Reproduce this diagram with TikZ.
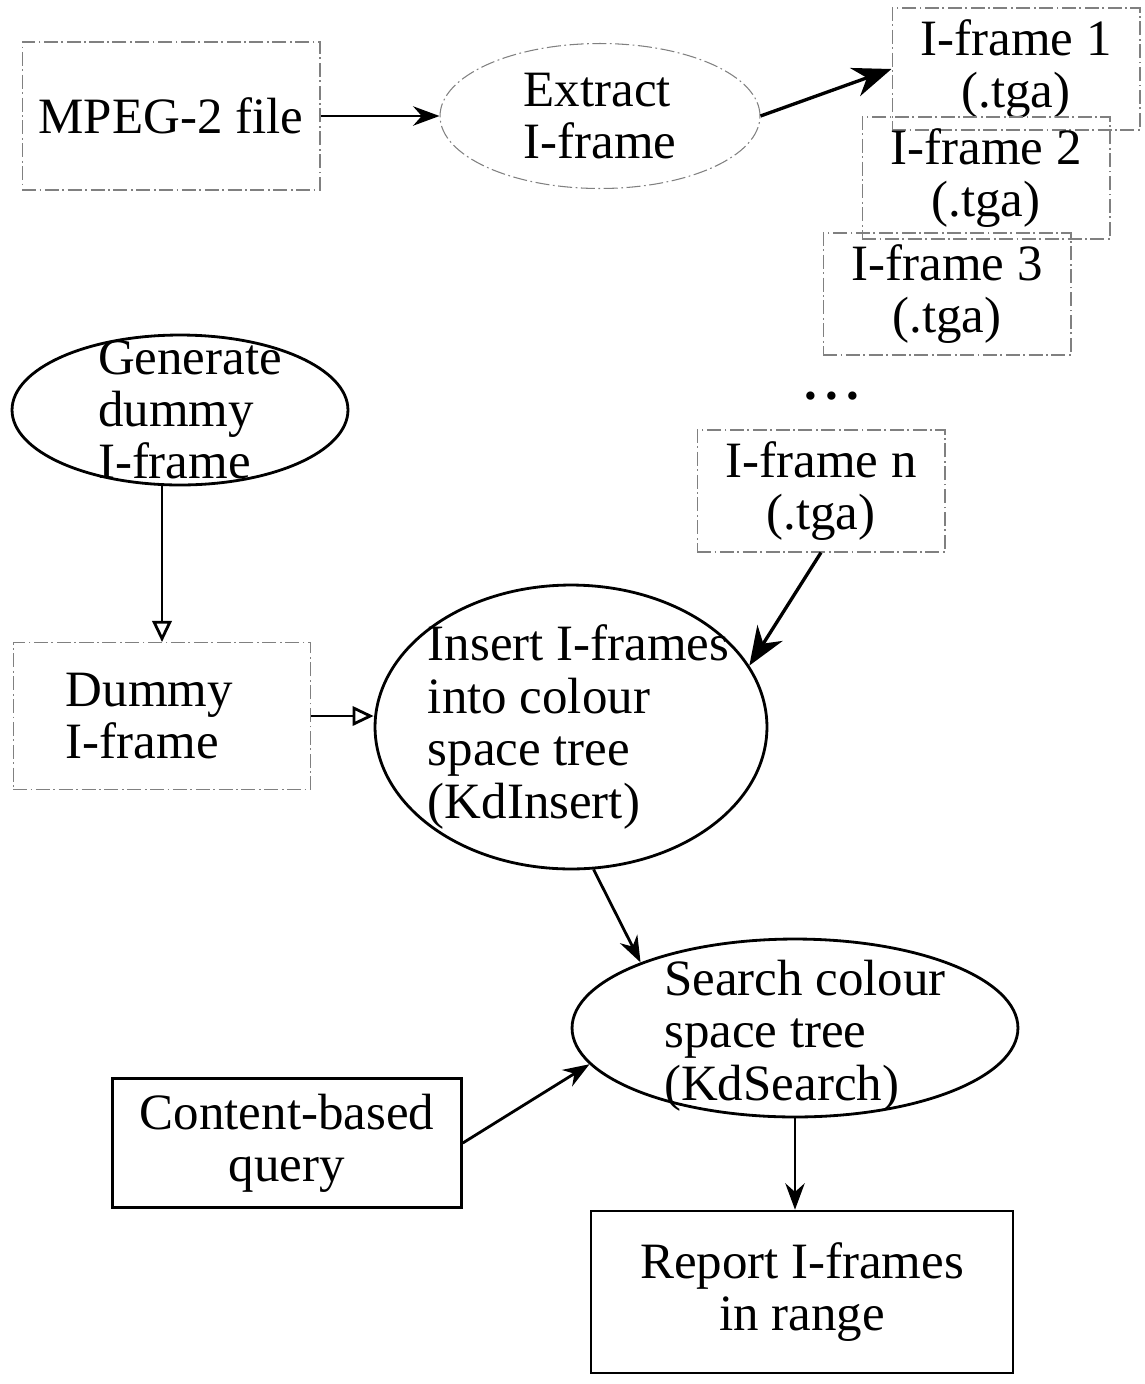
\documentclass[tikz,border=0pt]{standalone}
\usepackage{fontspec}
\setmainfont{Liberation Serif}
\usetikzlibrary{shapes.geometric, arrows.meta}

\tikzset{
  faint/.style={draw=black!50, line width=0.6pt, dash pattern=on 8pt off 2pt on 1pt off 2pt},
  proc/.style={ellipse, draw, line width=1.6pt, inner sep=0pt},
  fileproc/.style={ellipse, faint, inner sep=0pt},
  framebox/.style={rectangle, faint, align=center, inner sep=0pt, minimum width=4.96cm, minimum height=2.44cm},
  stepbox/.style={rectangle, draw, line width=1.5pt, align=center, inner sep=0pt},
  flow/.style={line width=1.6pt, -{Stealth[length=15pt,width=11pt]}},
  bigflow/.style={line width=1.9pt, -{Stealth[length=22pt,width=17pt]}},
  openflow/.style={line width=1.6pt, -{Triangle[open,length=12pt,width=11pt]}}
}

\begin{document}
\begin{tikzpicture}[x=0.02cm, y=-0.02cm, font=\fontsize{29}{29.8}\selectfont]
\useasboundingbox (0,0) rectangle (1144,1384);

% Source and extraction
\node[rectangle, faint, minimum width=5.96cm, minimum height=2.96cm] (mpeg) at (171,116) {MPEG-2 file};
\node[fileproc, minimum width=6.4cm, minimum height=2.9cm,
      label={[align=left]center:{Extract\\I-frame}}] (extract) at (600,116) {};

% Extracted frames
\node[framebox] (frame1) at (1016,69) {I-frame 1\\(.tga)};
\node[framebox] (frame2) at (986,178) {I-frame 2\\(.tga)};
\node[framebox] (frame3) at (947,294) {I-frame 3\\(.tga)};
\node (dots) at (832,396) {\bfseries .\,.\,.};
\node[framebox] (framen) at (821,491) {I-frame n\\(.tga)};

% Dummy frame
\node[proc, minimum width=6.72cm, minimum height=3.0cm,
      label={[align=left, xshift=0.2cm]center:{Generate\\dummy\\I-frame}}] (gen) at (180,410) {};
\node[rectangle, faint, align=left, minimum width=5.96cm, minimum height=2.94cm] (dummy) at (162,716) {\hspace*{-0.5cm}Dummy\\\hspace*{-0.5cm}I-frame};

% Colour space tree
\node[proc, minimum width=7.84cm, minimum height=5.68cm,
      label={[align=left, xshift=0.15cm]center:{Insert I-frames\\into colour\\space tree\\(KdInsert)}}] (insert) at (571,727) {};
\node[proc, minimum width=8.92cm, minimum height=3.56cm,
      label={[align=left, xshift=0.2cm, yshift=-0.15cm]center:{Search colour\\space tree\\(KdSearch)}}] (search) at (795,1028) {};

% Query and result
\node[stepbox, minimum width=6.98cm, minimum height=2.58cm] (query) at (287,1143) {Content-based\\query};
\node[stepbox, minimum width=8.44cm, minimum height=3.24cm] (report) at (802,1292) {Report I-frames\\in range};

% Connectors
\draw[flow] (mpeg.east) -- (extract.west);
\draw[bigflow] (extract.east) -- (frame1.west);
\draw[openflow] (gen.south -| dummy.north) -- (dummy.north);
\draw[openflow] (dummy.east) -- (dummy.east -| insert.west);
\draw[bigflow] (framen.south) -- (insert.19);
\draw[flow] (insert.-81) -- (search.157);
\draw[flow] (query.east) -- (search.190);
\draw[flow] (search.south) -- (search.south |- report.north);
\end{tikzpicture}
\end{document}
